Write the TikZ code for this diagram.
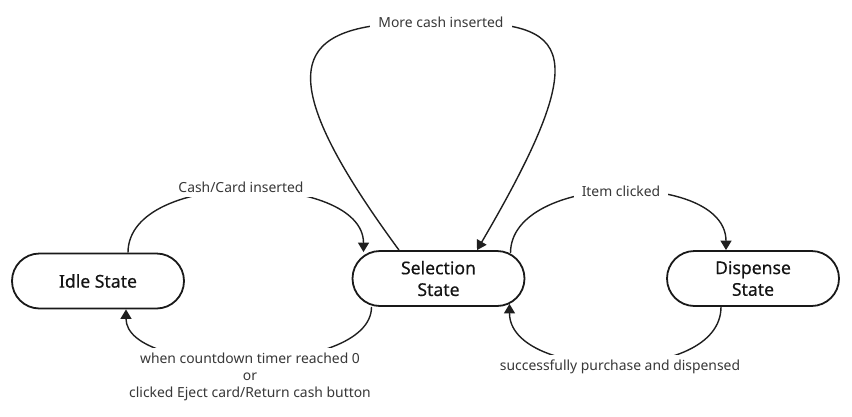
\documentclass[tikz,border=0pt]{standalone}
\usepackage{fontspec}
\setmainfont{Noto Sans}
\newfontfamily\statefont[FakeBold=0.35]{Noto Sans}
\usetikzlibrary{shapes.misc,arrows.meta}
\begin{document}
\begin{tikzpicture}[x=1pt,y=-1pt,
  state/.style={rounded rectangle, draw=black!90, line width=1.8pt,
    minimum width=172pt, minimum height=55pt, inner sep=0pt, align=center,
    font=\statefont\fontsize{17.6}{21.7}\selectfont, text=black!92},
  conn/.style={line width=1.4pt, draw=black!88, -{Triangle[length=9.5pt,width=11pt]}},
  lab/.style={fill=white, inner xsep=8pt, inner ysep=5pt,
    font=\fontsize{13.9}{16.7}\selectfont, text=black!78, align=center}]
\useasboundingbox (0,0) rectangle (852,416);

\node[state] (idle) at (98,281) {Idle State};
\node[state] (sel) at (438.5,278.5) {Selection\\State};
\node[state] (disp) at (753,278.5) {Dispense\\State};

\coordinate (looptop) at (441,22);

% Cash/Card inserted
\draw[conn] ([xshift=30pt]idle.north) .. controls +(0,-84) and +(0,-80) .. ([xshift=-75pt,yshift=-2pt]sel.north);
% return to idle
\draw[conn] ([xshift=-67pt]sel.south) .. controls +(0,70) and +(0,68) .. ([xshift=28pt]idle.south);
% self loop
\draw[conn] ([xshift=-39.5pt]sel.north) .. controls +(-150,-204) and +(-133,0) .. (looptop)
   .. controls +(122,0) and +(126,-215) .. ([xshift=38.5pt]sel.north);
% Item clicked
\draw[conn] ([xshift=72pt,yshift=-3pt]sel.north) .. controls +(0,-80) and +(0,-80) .. ([xshift=-27pt]disp.north);
% successfully purchased
\draw[conn] ([xshift=-32pt]disp.south) .. controls +(0,78) and +(0,76) .. ([xshift=71pt,yshift=3pt]sel.south);

\node[lab] (l1) at (241,187) {Cash/Card inserted};
\node[lab] (l2) at (250,377) {when countdown timer reached 0\\or\\clicked Eject card/Return cash button};
\node[lab] (l3) at (looptop) {More cash inserted};
\node[lab] (l4) at (621,191) {Item clicked};
\node[lab] (l5) at (620,366.5) {successfully purchase and dispensed};
\end{tikzpicture}
\end{document}
